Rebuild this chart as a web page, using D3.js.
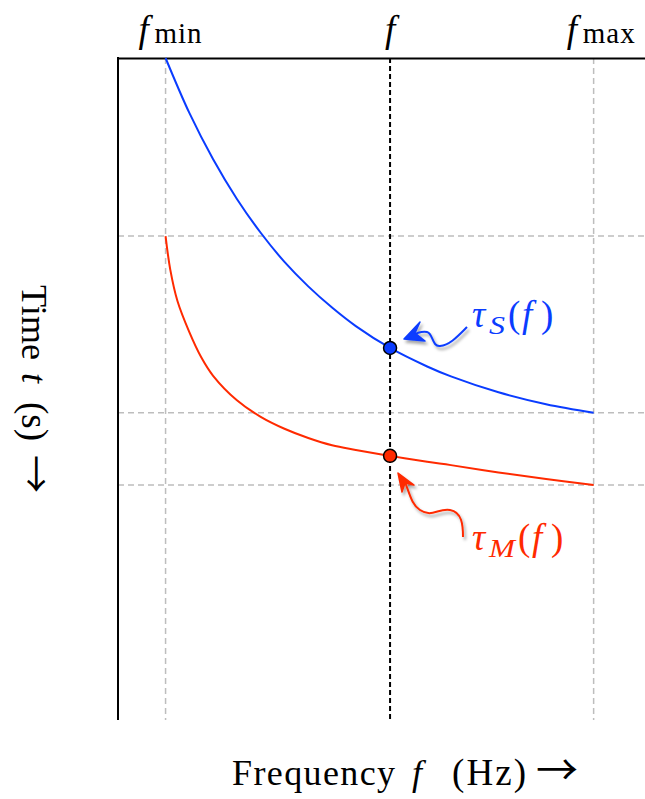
<!DOCTYPE html>
<html>
<head>
<meta charset="utf-8">
<title>tau S and tau M</title>
<script src="https://d3js.org/d3.v7.min.js"></script>
<style>
  body { margin: 0; background: #fff; }
  text { font-family: "Liberation Serif", "DejaVu Serif", serif; }
</style>
</head>
<body>
<div id="chart"></div>
<script>
// frequency marks (arbitrary units, fmin = 1, fmax = 10)
var fMin = 1, fSel = 5.72, fMax = 10;
var fSubs = ["min", "", "max"];

// tau_S(f)
var fS = [1, 1.5, 2, 2.5, 3, 3.5, 4, 4.5, 5, 5.72, 6.5, 7, 8, 9, 10];
var tauS = [10, 9.17, 8.47, 7.87, 7.36, 6.92, 6.55, 6.23, 5.95, 5.62, 5.34, 5.19, 4.95, 4.77, 4.64];

// tau_M(f)
var fM = [1, 1.1, 1.25, 1.5, 1.75, 2, 2.5, 3, 3.5, 4, 4.5, 5, 5.72, 6.5, 7, 8, 9, 10];
var tauM = [7.31, 6.80, 6.33, 5.86, 5.48, 5.20, 4.83, 4.58, 4.40, 4.26, 4.15, 4.08, 3.99, 3.90, 3.85, 3.74, 3.64, 3.55];

// horizontal reference levels (tau at fmin / fmax)
var levels = [7.31, 4.64, 3.55];

var W = 645, H = 799;
var mLeft = 118, mTop = 58, mRight = 645, mBottom = 720;
var blue = "#0a3cff", red = "#ff2a00";

var svg = d3.select("#chart").append("svg")
  .attr("width", W).attr("height", H);

var x = d3.scaleLinear().domain([0, 11.08]).range([mLeft, mRight]);
var y = d3.scaleLinear().domain([0, 10]).range([mBottom, mTop]);

var defs = svg.append("defs");
var sh = defs.append("filter").attr("id", "shadow")
  .attr("x", "-50%").attr("y", "-50%").attr("width", "200%").attr("height", "200%");
sh.append("feDropShadow").attr("dx", 2).attr("dy", 3).attr("stdDeviation", 1.6)
  .attr("flood-color", "#000").attr("flood-opacity", 0.35);

function txt(parent, px, py, s, size, o) {
  o = o || {};
  var t = parent.append("text").attr("x", px).attr("y", py)
    .attr("font-size", size).attr("fill", o.fill || "#000").text(s);
  if (o.italic) t.attr("font-style", "italic");
  if (o.len) t.attr("textLength", o.len).attr("lengthAdjust", o.adj || "spacing");
  if (o.anchor) t.attr("text-anchor", o.anchor);
  if (o.family) t.style("font-family", o.family);
  return t;
}

// grey dashed guides
svg.selectAll(".vgrid").data([fMin, fMax]).enter().append("line")
  .attr("x1", d => x(d)).attr("x2", d => x(d))
  .attr("y1", mTop).attr("y2", mBottom)
  .attr("stroke", "#bdbdbd").attr("stroke-width", 1.5)
  .attr("stroke-dasharray", "6,4");

svg.selectAll(".hgrid").data(levels).enter().append("line")
  .attr("x1", mLeft).attr("x2", mRight)
  .attr("y1", d => y(d)).attr("y2", d => y(d))
  .attr("stroke", "#bdbdbd").attr("stroke-width", 1.5)
  .attr("stroke-dasharray", "6,4");

// selected frequency
svg.append("line")
  .attr("x1", x(fSel)).attr("x2", x(fSel))
  .attr("y1", mTop).attr("y2", mBottom)
  .attr("stroke", "#000").attr("stroke-width", 2)
  .attr("stroke-dasharray", "5,3");

// axes (no ticks, just the frame lines)
var gTop = svg.append("g").attr("transform", "translate(0," + mTop + ")")
  .call(d3.axisTop(x).tickValues([]).tickSizeOuter(0));
gTop.select(".domain").attr("stroke", "#000").attr("stroke-width", 2);

var gLeft = svg.append("g").attr("transform", "translate(" + mLeft + ",0)")
  .call(d3.axisLeft(y).tickValues([]).tickSizeOuter(0));
gLeft.select(".domain").attr("stroke", "#000").attr("stroke-width", 2)
  .attr("d", "M0," + (mTop - 1) + "V" + mBottom);

// top labels: f_min, f, f_max
[fMin, fSel, fMax].forEach(function (v, i) {
  if (fSubs[i]) {
    txt(svg, x(v) - 27, 42, "f", 37, { italic: true });
    txt(svg, x(v) - 11, 43, fSubs[i], 29, { len: fSubs[i] === "min" ? 47 : 52 });
  } else {
    txt(svg, x(v), 42, "f", 37, { italic: true, anchor: "middle" });
  }
});

// curves
var line = d3.line().x(d => x(d[0])).y(d => y(d[1])).curve(d3.curveCatmullRom.alpha(0.5));

svg.append("path").datum(d3.zip(fS, tauS))
  .attr("d", line).attr("fill", "none")
  .attr("stroke", blue).attr("stroke-width", 2);

svg.append("path").datum(d3.zip(fM, tauM))
  .attr("d", line).attr("fill", "none")
  .attr("stroke", red).attr("stroke-width", 2);

// points at selected f
svg.append("circle").attr("cx", x(fSel)).attr("cy", y(tauS[fS.indexOf(fSel)])).attr("r", 6.5)
  .attr("fill", blue).attr("stroke", "#000").attr("stroke-width", 1.5);
svg.append("circle").attr("cx", x(fSel)).attr("cy", y(tauM[fM.indexOf(fSel)])).attr("r", 6.5)
  .attr("fill", red).attr("stroke", "#000").attr("stroke-width", 1.5);

// squiggly arrows
var g1 = svg.append("g").attr("filter", "url(#shadow)");
g1.append("path")
  .attr("d", "M467,327 C458,336 450,345 440,346 C432,347 433,333 427,332 C420,331 415,334 412,336")
  .attr("fill", "none").attr("stroke", blue).attr("stroke-width", 2);
g1.append("path")
  .attr("d", "M404,339 L420,322 L415,333 L425,341 Z")
  .attr("fill", blue).attr("stroke", blue).attr("stroke-width", 1.5).attr("stroke-linejoin", "round");

var g2 = svg.append("g").attr("filter", "url(#shadow)");
g2.append("path")
  .attr("d", "M463,537 C463,525 462,512 450,510 C438,508 432,518 420,510 C412,505 410,495 405,482")
  .attr("fill", "none").attr("stroke", red).attr("stroke-width", 2);
g2.append("path")
  .attr("d", "M398,473 L402,492 L405,483 L414,485 Z")
  .attr("fill", red).attr("stroke", red).attr("stroke-width", 1.5).attr("stroke-linejoin", "round");

// curve labels
function tauLabel(xp, yp, sub, subLen, col) {
  txt(svg, xp, yp, "τ", 37, { italic: true, fill: col });
  txt(svg, xp + 17, yp + 7, sub, 26, { italic: true, fill: col, len: subLen, adj: "spacingAndGlyphs" });
  txt(svg, xp + 20 + subLen, yp, "(", 37, { fill: col });
  txt(svg, xp + 34 + subLen, yp, "f", 37, { italic: true, fill: col });
  txt(svg, xp + 53 + subLen, yp, ")", 37, { fill: col });
}
tauLabel(472, 327, "S", 16, blue);
tauLabel(472, 550, "M", 26, red);

// x axis title
txt(svg, 232, 785, "Frequency", 36, { len: 163 });
txt(svg, 412, 785, "f", 36, { italic: true });
txt(svg, 452, 785, "(Hz)", 37, { len: 74 });
txt(svg, 536, 785, "→", 42, { family: "Noto Sans CJK SC" });

// y axis title
var yt = svg.append("g").attr("transform", "translate(22,285) rotate(90)");
txt(yt, 0, 0, "Time", 36, { len: 75 });
txt(yt, 88, 0, "t", 36, { italic: true });
txt(yt, 117, 0, "(s)", 37);
txt(yt, 170, 0, "→", 38, { family: "Noto Sans CJK SC" });
</script>
</body>
</html>
